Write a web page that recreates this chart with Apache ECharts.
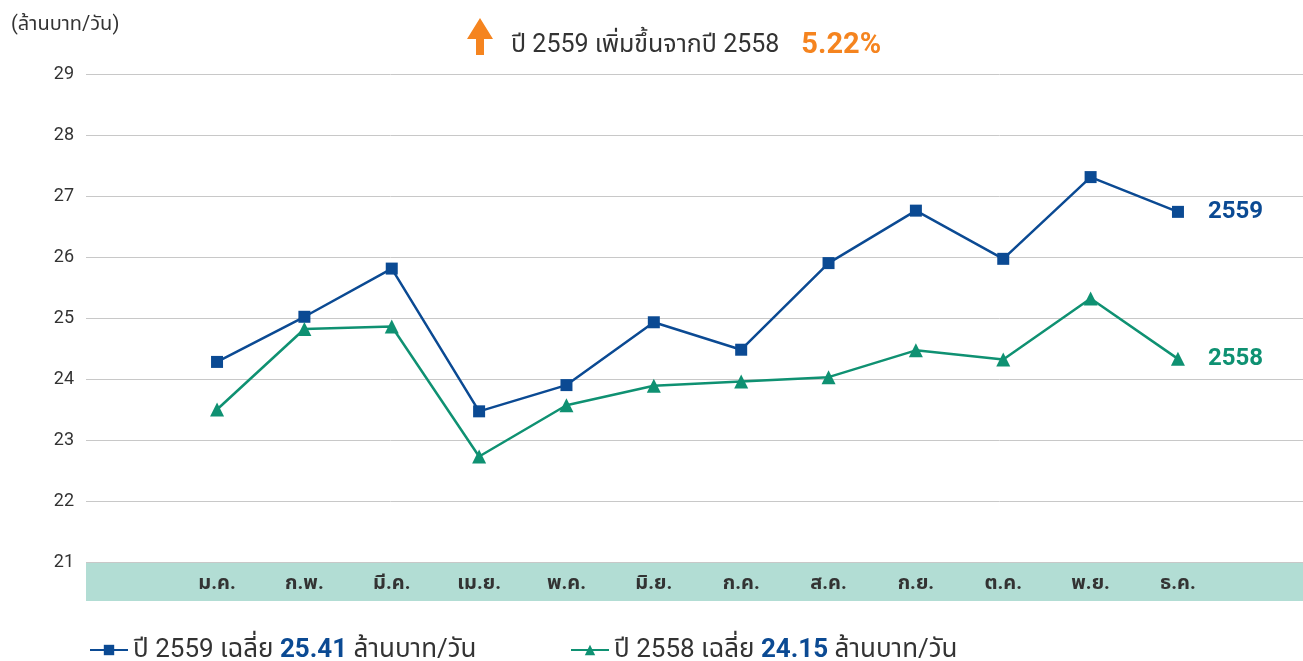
<!DOCTYPE html>
<html>
<head>
<meta charset="utf-8">
<script src="https://cdn.jsdelivr.net/npm/echarts@6/dist/echarts.min.js"></script>
<style>
  html, body { margin: 0; padding: 0; background: #fff; }
  #chart { width: 1303px; height: 661px; }
</style>
</head>
<body>
<div id="chart"></div>
<script>
// ข้อมูลรายเดือน (ล้านบาท/วัน)
var months = ["ม.ค.", "ก.พ.", "มี.ค.", "เม.ย.", "พ.ค.", "มิ.ย.", "ก.ค.", "ส.ค.", "ก.ย.", "ต.ค.", "พ.ย.", "ธ.ค."];
var values2559 = [24.28, 25.02, 25.81, 23.47, 23.90, 24.93, 24.48, 25.90, 26.76, 25.97, 27.31, 26.74];
var values2558 = [23.50, 24.82, 24.86, 22.73, 23.57, 23.89, 23.96, 24.03, 24.47, 24.32, 25.32, 24.33];
var avg2559 = "25.41";
var avg2558 = "24.15";
var growth = "5.22%";
var yTicks = { min: 21, max: 29, step: 1 };

var FONT = "Roboto, 'Noto Sans Thai', 'Noto Sans', sans-serif";
var BLUE = "#0b4a93";
var GREEN = "#0f9172";
var TEXT = "#333333";

// เว้นช่องว่างซ้าย/ขวาของแกน x
var axisCats = [""].concat(months).concat([""]);
function pad(arr) {
    return [null].concat(arr).concat([null]);
}

var myChart = echarts.init(document.getElementById("chart"));

var legendRich = {
    t: { fontSize: 26, color: TEXT, fontFamily: FONT },
    b: { fontSize: 26, color: BLUE, fontWeight: "bold", fontFamily: FONT }
};

var option = {
    animation: false,
    textStyle: { fontFamily: FONT },
    title: [{
        text: "{t|ปี 2559 เพิ่มขึ้นจากปี 2558}{p|" + growth + "}",
        left: 506,
        top: 26,
        textStyle: {
            fontWeight: "normal",
            rich: {
                t: { fontSize: 25, color: TEXT, fontWeight: "normal", fontFamily: FONT, padding: [0, 22, 0, 0] },
                p: { fontSize: 29, color: "#f5841f", fontWeight: "bold", fontFamily: FONT }
            }
        }
    }, {
        text: "(ล้านบาท/วัน)",
        left: 6,
        top: 10,
        textStyle: { fontSize: 20, color: TEXT, fontWeight: "normal", fontFamily: FONT }
    }],
    legend: [{
        data: ["2559"],
        left: 84,
        top: 632,
        itemWidth: 38,
        itemHeight: 13,
        itemGap: 8,
        formatter: function () {
            return "{t|ปี 2559 เฉลี่ย }{b|" + avg2559 + "}{t| ล้านบาท/วัน}";
        },
        textStyle: { rich: legendRich }
    }, {
        data: ["2558"],
        left: 565,
        top: 632,
        itemWidth: 38,
        itemHeight: 13,
        formatter: function () {
            return "{t|ปี 2558 เฉลี่ย }{b|" + avg2558 + "}{t| ล้านบาท/วัน}";
        },
        textStyle: { rich: legendRich }
    }],
    grid: { left: 86, width: 1223, top: 74, bottom: 99, containLabel: false, outerBoundsMode: "none" },
    xAxis: {
        type: "category",
        data: axisCats,
        boundaryGap: true,
        axisLine: { show: false },
        axisTick: { show: false },
        axisLabel: {
            margin: 12,
            fontSize: 20,
            fontWeight: "bold",
            color: TEXT,
            fontFamily: FONT,
            interval: 0
        }
    },
    yAxis: {
        type: "value",
        min: yTicks.min,
        max: yTicks.max,
        interval: yTicks.step,
        axisLine: { show: false },
        axisTick: { show: false },
        axisLabel: { fontSize: 18, color: TEXT, margin: 12, fontFamily: FONT },
        splitLine: { lineStyle: { color: "#c8c8c8", width: 1 } }
    },
    graphic: [{
        type: "rect",
        z: -10,
        shape: { x: 86, y: 562, width: 1217, height: 39 },
        style: { fill: "#b2ddd4" }
    }, {
        // ลูกศรขึ้น
        type: "polygon",
        shape: { points: [[480, 18], [493, 39], [484, 39], [484, 55], [476, 55], [476, 39], [467, 39]] },
        style: { fill: "#f5841f" }
    }],
    series: [{
        name: "2559",
        type: "line",
        data: pad(values2559),
        symbol: "rect",
        symbolSize: 12,
        color: BLUE,
        lineStyle: { width: 2.5, color: BLUE },
        itemStyle: { color: BLUE },
        endLabel: {
            show: true,
            formatter: "2559",
            distance: 30,
            fontSize: 24,
            fontWeight: "bold",
            color: BLUE,
            fontFamily: FONT
        }
    }, {
        name: "2558",
        type: "line",
        data: pad(values2558),
        symbol: "triangle",
        symbolSize: 14,
        color: GREEN,
        lineStyle: { width: 2.5, color: GREEN },
        itemStyle: { color: GREEN },
        endLabel: {
            show: true,
            formatter: "2558",
            distance: 30,
            fontSize: 24,
            fontWeight: "bold",
            color: GREEN,
            fontFamily: FONT
        }
    }]
};

myChart.setOption(option);
</script>
</body>
</html>
